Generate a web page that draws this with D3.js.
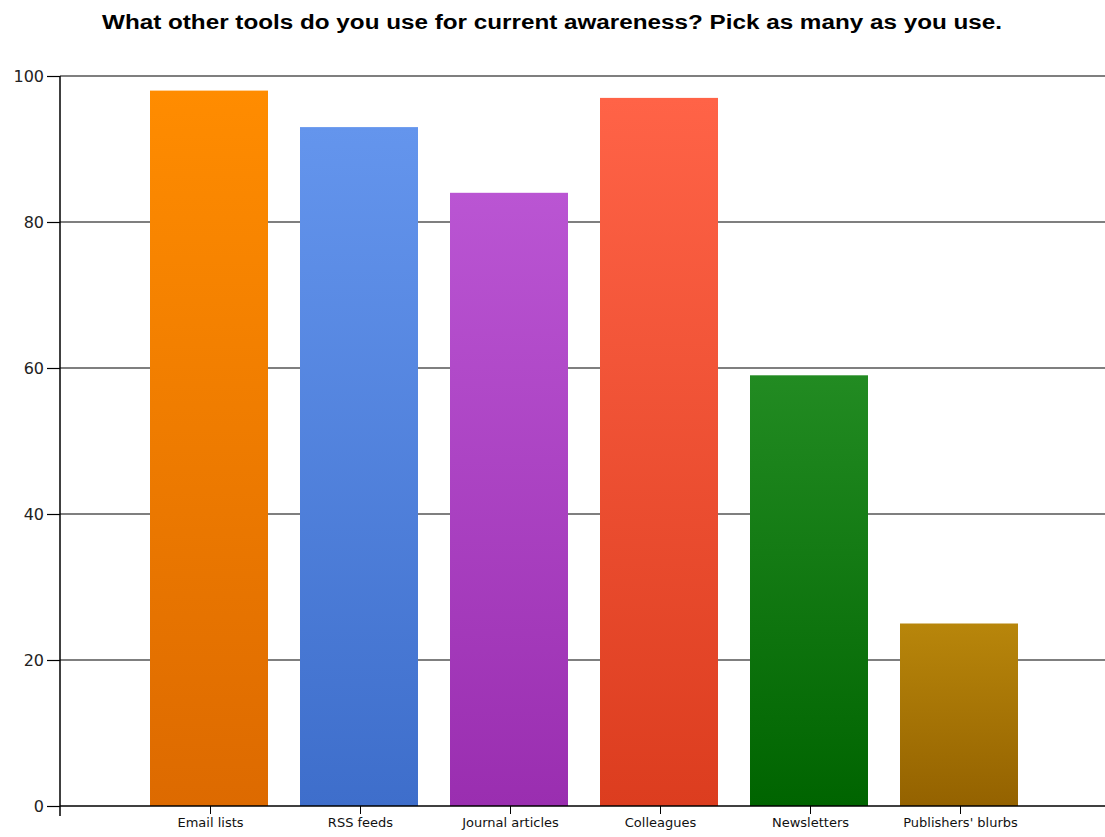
<!DOCTYPE html>
<html><head><meta charset="utf-8">
<script src="https://cdn.jsdelivr.net/npm/d3@7"></script>
<style>body{margin:0;background:#fff}svg{display:block}</style>
</head><body><svg id="c" width="1105" height="837"></svg>
<script>
const title = "What other tools do you use for current awareness? Pick as many as you use.";
const categories = ["Email lists","RSS feeds","Journal articles","Colleagues","Newsletters","Publishers' blurbs"];
const values = [98, 93, 84, 97, 59, 25];
const topColors = ["#ff8c00","#6495ed","#ba55d3","#ff6347","#228b22","#b8860b"];
const bottomColors = ["#dd6a00","#3e6ecb","#9a2eb0","#dc3d1f","#006400","#946200"];
const yTicks = [0,20,40,60,80,100];

const svg = d3.select("#c");
const mLeft = 60, mRight = 1110, mTop = 76, mBottom = 806;
const x = d3.scaleLinear().domain([0, categories.length + 1]).range([mLeft, mRight]);
const y = d3.scaleLinear().domain([0, 100]).range([mBottom, mTop]);
const barW = 118;

const defs = svg.append("defs");
categories.forEach((c, i) => {
  const g = defs.append("linearGradient").attr("id", "g" + i)
    .attr("x1", 0).attr("y1", 0).attr("x2", 0).attr("y2", 1);
  g.append("stop").attr("offset", "0%").attr("stop-color", topColors[i]);
  g.append("stop").attr("offset", "100%").attr("stop-color", bottomColors[i]);
});

svg.append("text").attr("x", 102).attr("y", 29)
  .attr("font-family", "Liberation Sans, Arial, sans-serif").attr("font-weight", "bold")
  .attr("font-size", 20).attr("textLength", 900).attr("lengthAdjust", "spacingAndGlyphs")
  .attr("fill", "#000").text(title);

// gridlines
svg.append("g").selectAll("line").data(yTicks.filter(d => d > 0)).join("line")
  .attr("x1", mLeft).attr("x2", 1105).attr("y1", d => y(d)).attr("y2", d => y(d))
  .attr("stroke", "#000").attr("stroke-width", 1.2);

// bars
svg.append("g").selectAll("rect").data(values).join("rect")
  .attr("x", (d, i) => x(i + 1) - barW / 2 - 1).attr("width", barW)
  .attr("y", d => y(d)).attr("height", d => y(0) - y(d))
  .attr("fill", (d, i) => `url(#g${i})`);

// y axis
const ya = svg.append("g").attr("transform", `translate(${mLeft},0)`)
  .call(d3.axisLeft(y).tickValues(yTicks).tickSize(13).tickPadding(3).tickFormat(d3.format("d")));
ya.select(".domain").remove();
ya.selectAll(".tick line").attr("stroke", "#000").attr("stroke-width", 1.2);
ya.selectAll("text").attr("font-family", "DejaVu Sans, sans-serif").attr("font-size", 16).attr("fill", "#222");
svg.append("line").attr("x1", mLeft).attr("x2", mLeft).attr("y1", mTop).attr("y2", mBottom + 10)
  .attr("stroke", "#000").attr("stroke-width", 1.5);

// x axis
const xa = svg.append("g").attr("transform", `translate(0,${mBottom})`)
  .call(d3.axisBottom(x).tickValues(d3.range(1, categories.length + 1)).tickSize(8).tickPadding(4)
    .tickFormat(d => categories[d - 1]));
xa.select(".domain").remove();
xa.selectAll(".tick line").attr("stroke", "#000");
xa.selectAll("text").attr("font-family", "DejaVu Sans, sans-serif").attr("font-size", 13).attr("fill", "#111");
svg.append("line").attr("x1", mLeft).attr("x2", 1105).attr("y1", mBottom).attr("y2", mBottom)
  .attr("stroke", "#000").attr("stroke-width", 1.5);
</script></body></html>
